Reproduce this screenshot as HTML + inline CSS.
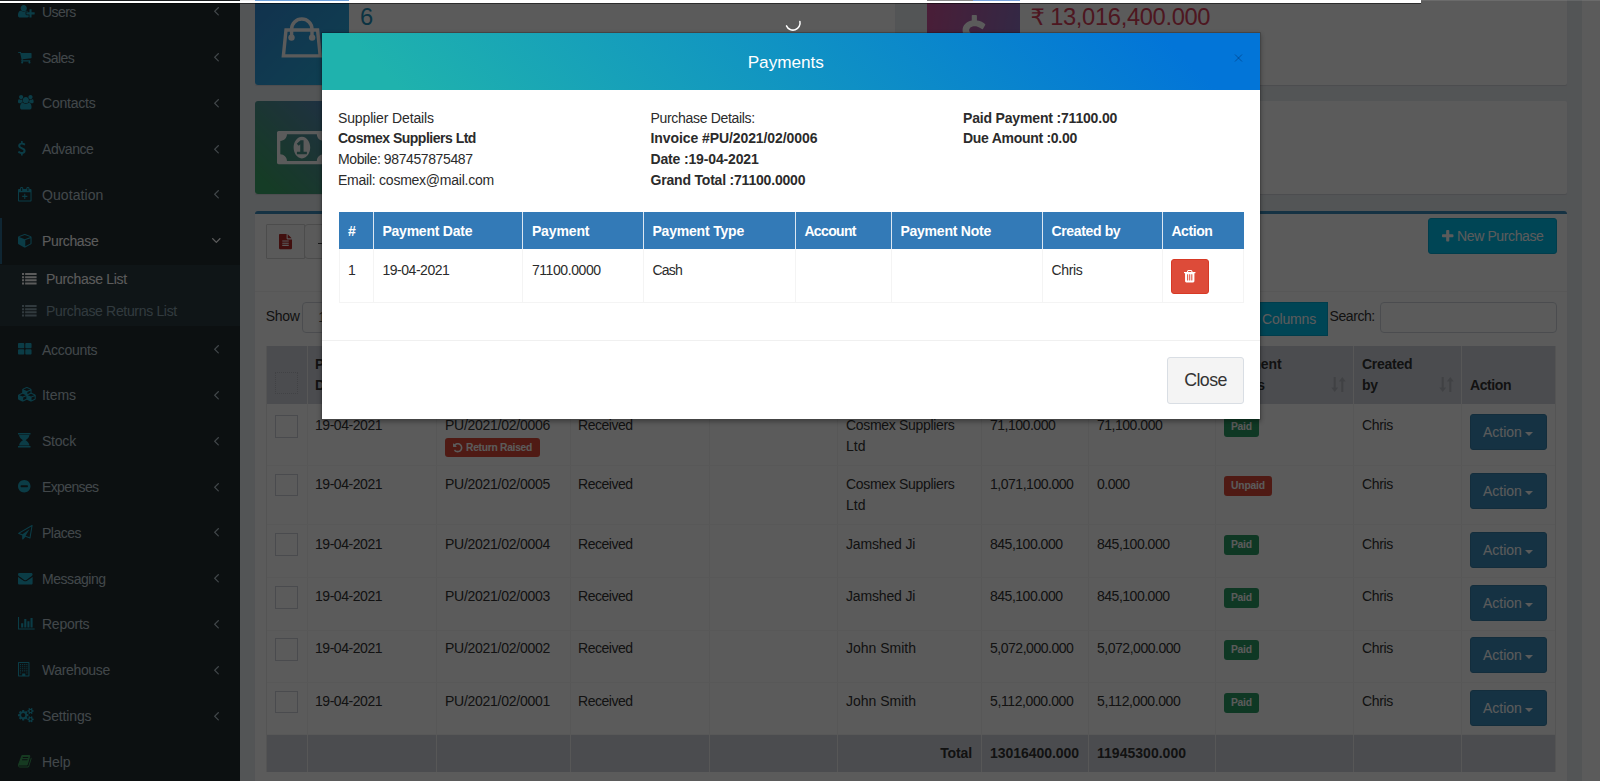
<!DOCTYPE html>
<html lang="en"><head><meta charset="utf-8"><title>Purchase List - Payments</title>
<style>
html,body{margin:0;padding:0;background:#fff}
body{width:1600px;height:781px;overflow:hidden;position:relative;font-family:"Liberation Sans",sans-serif}
#bg,#ov,#top,#modal{position:absolute;left:0;top:0;width:1600px;height:781px;overflow:hidden}
#ov{background:rgba(0,0,0,.645)}
.b{position:absolute}
.i{position:absolute;display:block;overflow:visible}
.t{position:absolute;white-space:pre;line-height:20px;font-weight:400}
</style></head>
<body>
<div id="bg"><div class="b" style="left:0px;top:-20px;width:240px;height:820px;background:#222d32"></div><div class="b" style="left:0px;top:218px;width:2px;height:46px;background:#2c6a8e"></div><div class="b" style="left:0px;top:265px;width:240px;height:61px;background:#2c3b41"></div><svg class="i" style="left:18.00px;top:4.68px;" width="16.69" height="12.51" viewBox="0.0 -1408.0 2048.0 1536.0"><path fill="#1fa9c4" transform="scale(1,-1)" d="M704 640C916 640 1088 812 1088 1024C1088 1236 916 1408 704 1408C492 1408 320 1236 320 1024C320 812 492 640 704 640ZM1664 512V864C1664 881 1649 896 1632 896H1440C1423 896 1408 881 1408 864V512H1056C1039 512 1024 497 1024 480V288C1024 271 1039 256 1056 256H1408V-96C1408 -113 1423 -128 1440 -128H1632C1649 -128 1664 -113 1664 -96V256H2016C2033 256 2048 271 2048 288V480C2048 497 2033 512 2016 512ZM928 288V480C928 550 986 608 1056 608H1279C1222 672 1147 704 1062 704C1046 704 1035 697 1023 687C925 612 830 565 704 565C578 565 483 612 385 687C373 697 362 704 346 704C53 704 0 357 0 131C0 -32 107 -128 267 -128H1141C1201 -128 1263 -114 1312 -78V160H1056C986 160 928 218 928 288Z"/></svg><span class="t" style="left:42.00px;top:1.75px;font-size:14.03px;color:#b8c7ce;letter-spacing:-0.560px;">Users</span><svg class="i" style="left:213.89px;top:7.25px;" width="5.03" height="8.63" viewBox="45.0 -1075.0 582.0 998.0"><path fill="#b8c7ce" transform="scale(1,-1)" d="M627 992C627 1001 623 1009 617 1015L567 1065C561 1071 552 1075 544 1075C536 1075 527 1071 521 1065L55 599C49 593 45 584 45 576C45 568 49 559 55 553L521 87C527 81 536 77 544 77C552 77 561 81 567 87L617 137C623 143 627 152 627 160C627 168 623 177 617 183L224 576L617 969C623 975 627 984 627 992Z"/></svg><svg class="i" style="left:18.00px;top:51.52px;" width="13.56" height="11.47" viewBox="0.0 -1280.0 1664.0 1408.0"><path fill="#1fa9c4" transform="scale(1,-1)" d="M640 0C640 70 582 128 512 128C442 128 384 70 384 0C384 -70 442 -128 512 -128C582 -128 640 -70 640 0ZM1536 0C1536 70 1478 128 1408 128C1338 128 1280 70 1280 0C1280 -70 1338 -128 1408 -128C1478 -128 1536 -70 1536 0ZM1664 1088C1664 1123 1635 1152 1600 1152H399C389 1200 387 1280 320 1280H64C29 1280 0 1251 0 1216C0 1181 29 1152 64 1152H268L445 329C429 298 384 223 384 192C384 157 413 128 448 128H1472C1507 128 1536 157 1536 192C1536 227 1507 256 1472 256H552C562 276 576 297 576 320C576 344 568 367 563 390L1607 512C1639 516 1664 544 1664 576Z"/></svg><span class="t" style="left:42.00px;top:47.55px;font-size:14.03px;color:#b8c7ce;letter-spacing:-0.573px;">Sales</span><svg class="i" style="left:213.89px;top:53.05px;" width="5.03" height="8.63" viewBox="45.0 -1075.0 582.0 998.0"><path fill="#b8c7ce" transform="scale(1,-1)" d="M627 992C627 1001 623 1009 617 1015L567 1065C561 1071 552 1075 544 1075C536 1075 527 1071 521 1065L55 599C49 593 45 584 45 576C45 568 49 559 55 553L521 87C527 81 536 77 544 77C552 77 561 81 567 87L617 137C623 143 627 152 627 160C627 168 623 177 617 183L224 576L617 969C623 975 627 984 627 992Z"/></svg><svg class="i" style="left:18.00px;top:95.24px;" width="15.64" height="14.60" viewBox="-0.0 -1536.0 1920.0 1792.0"><path fill="#1fa9c4" transform="scale(1,-1)" d="M593 640C541 715 512 805 512 896C512 918 514 940 517 962C474 947 430 939 384 939C249 939 145 1024 124 1024C-3 1024 0 752 0 671C0 560 94 512 194 512H328C395 592 489 637 593 640ZM1664 3C1664 229 1611 576 1318 576C1284 576 1160 437 960 437C760 437 636 576 602 576C309 576 256 229 256 3C256 -159 363 -256 523 -256H1397C1557 -256 1664 -159 1664 3ZM640 1280C640 1421 525 1536 384 1536C243 1536 128 1421 128 1280C128 1139 243 1024 384 1024C525 1024 640 1139 640 1280ZM1344 896C1344 1108 1172 1280 960 1280C748 1280 576 1108 576 896C576 684 748 512 960 512C1172 512 1344 684 1344 896ZM1920 671C1920 752 1923 1024 1796 1024C1775 1024 1671 939 1536 939C1490 939 1446 947 1403 962C1406 940 1408 918 1408 896C1408 805 1379 715 1327 640C1431 637 1525 592 1592 512H1726C1826 512 1920 560 1920 671ZM1792 1280C1792 1421 1677 1536 1536 1536C1395 1536 1280 1421 1280 1280C1280 1139 1395 1024 1536 1024C1677 1024 1792 1139 1792 1280Z"/></svg><span class="t" style="left:42.00px;top:93.35px;font-size:14.03px;color:#b8c7ce;letter-spacing:-0.218px;">Contacts</span><svg class="i" style="left:213.89px;top:98.85px;" width="5.03" height="8.63" viewBox="45.0 -1075.0 582.0 998.0"><path fill="#b8c7ce" transform="scale(1,-1)" d="M627 992C627 1001 623 1009 617 1015L567 1065C561 1071 552 1075 544 1075C536 1075 527 1071 521 1065L55 599C49 593 45 584 45 576C45 568 49 559 55 553L521 87C527 81 536 77 544 77C552 77 561 81 567 87L617 137C623 143 627 152 627 160C627 168 623 177 617 183L224 576L617 969C623 975 627 984 627 992Z"/></svg><svg class="i" style="left:18.37px;top:141.04px;" width="7.59" height="14.60" viewBox="45.8 -1536.0 932.2 1792.0"><path fill="#1fa9c4" transform="scale(1,-1)" d="M978 351C978 592 770 673 586 744C444 799 322 846 322 952C322 1043 410 1106 537 1106C687 1106 808 999 809 998C817 992 826 989 836 991C846 992 854 998 859 1007L940 1153C947 1165 945 1180 935 1191C931 1195 823 1305 620 1328V1504C620 1522 606 1536 588 1536H453C436 1536 421 1522 421 1504V1324C212 1284 68 1132 68 948C68 697 292 607 472 536C607 482 725 435 725 339C725 226 619 174 521 174C344 174 204 308 202 309C196 316 187 319 178 318C169 317 160 313 155 306L52 171C43 159 44 142 54 130C59 124 187 -16 421 -49V-224C421 -242 436 -256 453 -256H588C606 -256 620 -242 620 -224V-49C832 -14 978 147 978 351Z"/></svg><span class="t" style="left:42.00px;top:139.15px;font-size:14.03px;color:#b8c7ce;letter-spacing:-0.446px;">Advance</span><svg class="i" style="left:213.89px;top:144.65px;" width="5.03" height="8.63" viewBox="45.0 -1075.0 582.0 998.0"><path fill="#b8c7ce" transform="scale(1,-1)" d="M627 992C627 1001 623 1009 617 1015L567 1065C561 1071 552 1075 544 1075C536 1075 527 1071 521 1065L55 599C49 593 45 584 45 576C45 568 49 559 55 553L521 87C527 81 536 77 544 77C552 77 561 81 567 87L617 137C623 143 627 152 627 160C627 168 623 177 617 183L224 576L617 969C623 975 627 984 627 992Z"/></svg><svg class="i" style="left:18.00px;top:186.84px;" width="13.56" height="14.60" viewBox="0.0 -1536.0 1664.0 1792.0"><path fill="#1fa9c4" transform="scale(1,-1)" d="M1536 1280H1408V1376C1408 1464 1336 1536 1248 1536H1184C1096 1536 1024 1464 1024 1376V1280H640V1376C640 1464 568 1536 480 1536H416C328 1536 256 1464 256 1376V1280H128C58 1280 0 1222 0 1152V-128C0 -198 58 -256 128 -256H1536C1606 -256 1664 -198 1664 -128V1152C1664 1222 1606 1280 1536 1280ZM1152 1376C1152 1394 1166 1408 1184 1408H1248C1266 1408 1280 1394 1280 1376V1088C1280 1070 1266 1056 1248 1056H1184C1166 1056 1152 1070 1152 1088ZM384 1376C384 1394 398 1408 416 1408H480C498 1408 512 1394 512 1376V1088C512 1070 498 1056 480 1056H416C398 1056 384 1070 384 1088ZM1536 -128H128V896H1536ZM896 448V672C896 690 882 704 864 704H800C782 704 768 690 768 672V448H544C526 448 512 434 512 416V352C512 334 526 320 544 320H768V96C768 78 782 64 800 64H864C882 64 896 78 896 96V320H1120C1138 320 1152 334 1152 352V416C1152 434 1138 448 1120 448Z"/></svg><span class="t" style="left:42.00px;top:184.95px;font-size:14.03px;color:#b8c7ce;letter-spacing:0.072px;">Quotation</span><svg class="i" style="left:213.89px;top:190.45px;" width="5.03" height="8.63" viewBox="45.0 -1075.0 582.0 998.0"><path fill="#b8c7ce" transform="scale(1,-1)" d="M627 992C627 1001 623 1009 617 1015L567 1065C561 1071 552 1075 544 1075C536 1075 527 1071 521 1065L55 599C49 593 45 584 45 576C45 568 49 559 55 553L521 87C527 81 536 77 544 77C552 77 561 81 567 87L617 137C623 143 627 152 627 160C627 168 623 177 617 183L224 576L617 969C623 975 627 984 627 992Z"/></svg><svg class="i" style="left:18.00px;top:233.68px;" width="13.56" height="13.56" viewBox="0.0 -1408.0 1664.0 1664.0"><path fill="#1fa9c4" transform="scale(1,-1)" d="M896 -93V659L1536 892V256ZM832 772 134 1026 832 1280 1530 1026ZM1664 1024C1664 1078 1630 1126 1580 1144L876 1400C862 1405 847 1408 832 1408C817 1408 802 1405 788 1400L84 1144C34 1126 0 1078 0 1024V256C0 209 26 166 67 144L771 -240C790 -251 811 -256 832 -256C853 -256 874 -251 893 -240L1597 144C1638 166 1664 209 1664 256Z"/></svg><span class="t" style="left:42.00px;top:230.75px;font-size:14.03px;color:#fff;letter-spacing:-0.355px;">Purchase</span><svg class="i" style="left:211.67px;top:237.91px;" width="8.63" height="5.03" viewBox="77.0 -883.0 998.0 582.0"><path fill="#fff" transform="scale(1,-1)" d="M1075 800C1075 808 1071 817 1065 823L1015 873C1009 879 1000 883 992 883C984 883 975 879 969 873L576 480L183 873C177 879 168 883 160 883C151 883 143 879 137 873L87 823C81 817 77 808 77 800C77 792 81 783 87 777L553 311C559 305 568 301 576 301C584 301 593 305 599 311L1065 777C1071 783 1075 792 1075 800Z"/></svg><svg class="i" style="left:18.00px;top:342.58px;" width="13.56" height="11.47" viewBox="0.0 -1408.0 1664.0 1408.0"><path fill="#1fa9c4" transform="scale(1,-1)" d="M768 512C768 582 710 640 640 640H128C58 640 0 582 0 512V128C0 58 58 0 128 0H640C710 0 768 58 768 128ZM768 1280C768 1350 710 1408 640 1408H128C58 1408 0 1350 0 1280V896C0 826 58 768 128 768H640C710 768 768 826 768 896ZM1664 512C1664 582 1606 640 1536 640H1024C954 640 896 582 896 512V128C896 58 954 0 1024 0H1536C1606 0 1664 58 1664 128ZM1664 1280C1664 1350 1606 1408 1536 1408H1024C954 1408 896 1350 896 1280V896C896 826 954 768 1024 768H1536C1606 768 1664 826 1664 896Z"/></svg><span class="t" style="left:42.00px;top:339.65px;font-size:14.03px;color:#b8c7ce;letter-spacing:-0.293px;">Accounts</span><svg class="i" style="left:213.89px;top:345.15px;" width="5.03" height="8.63" viewBox="45.0 -1075.0 582.0 998.0"><path fill="#b8c7ce" transform="scale(1,-1)" d="M627 992C627 1001 623 1009 617 1015L567 1065C561 1071 552 1075 544 1075C536 1075 527 1071 521 1065L55 599C49 593 45 584 45 576C45 568 49 559 55 553L521 87C527 81 536 77 544 77C552 77 561 81 567 87L617 137C623 143 627 152 627 160C627 168 623 177 617 183L224 576L617 969C623 975 627 984 627 992Z"/></svg><svg class="i" style="left:18.00px;top:387.34px;" width="17.73" height="14.60" viewBox="0.0 -1536.0 2176.0 1792.0"><path fill="#1fa9c4" transform="scale(1,-1)" d="M640 -96V246L1024 410V96ZM576 358 172 531 576 704 980 531ZM1664 -96V246L2048 410V96ZM1600 358 1196 531 1600 704 2004 531ZM1152 651V918L1536 1082V816ZM1088 1030 647 1219 1088 1408 1529 1219ZM2176 512C2176 563 2146 609 2098 630L1664 816V1216C1664 1267 1633 1313 1586 1334L1138 1526C1122 1533 1105 1536 1088 1536C1071 1536 1054 1533 1038 1526L590 1334C543 1313 512 1267 512 1216V816L78 630C31 609 0 563 0 512V96C0 48 27 3 71 -18L519 -242C537 -252 556 -256 576 -256C596 -256 615 -252 633 -242L1081 -18C1084 -17 1086 -16 1088 -14C1090 -16 1092 -17 1095 -18L1543 -242C1561 -252 1580 -256 1600 -256C1620 -256 1639 -252 1657 -242L2105 -18C2149 3 2176 48 2176 96Z"/></svg><span class="t" style="left:42.00px;top:385.45px;font-size:14.03px;color:#b8c7ce;letter-spacing:-0.055px;">Items</span><svg class="i" style="left:213.89px;top:390.95px;" width="5.03" height="8.63" viewBox="45.0 -1075.0 582.0 998.0"><path fill="#b8c7ce" transform="scale(1,-1)" d="M627 992C627 1001 623 1009 617 1015L567 1065C561 1071 552 1075 544 1075C536 1075 527 1071 521 1065L55 599C49 593 45 584 45 576C45 568 49 559 55 553L521 87C527 81 536 77 544 77C552 77 561 81 567 87L617 137C623 143 627 152 627 160C627 168 623 177 617 183L224 576L617 969C623 975 627 984 627 992Z"/></svg><svg class="i" style="left:18.00px;top:433.14px;" width="12.51" height="14.60" viewBox="0.0 -1536.0 1536.0 1792.0"><path fill="#1fa9c4" transform="scale(1,-1)" d="M1504 -64H32C14 -64 0 -78 0 -96V-224C0 -242 14 -256 32 -256H1504C1522 -256 1536 -242 1536 -224V-96C1536 -78 1522 -64 1504 -64ZM130 0H1406C1387 337 1112 518 928 640C1112 762 1387 943 1406 1280H130C149 943 424 762 608 640C424 518 149 337 130 0ZM1504 1536H32C14 1536 0 1522 0 1504V1376C0 1358 14 1344 32 1344H1504C1522 1344 1536 1358 1536 1376V1504C1536 1522 1522 1536 1504 1536Z"/></svg><span class="t" style="left:42.00px;top:431.25px;font-size:14.03px;color:#b8c7ce;letter-spacing:-0.224px;">Stock</span><svg class="i" style="left:213.89px;top:436.75px;" width="5.03" height="8.63" viewBox="45.0 -1075.0 582.0 998.0"><path fill="#b8c7ce" transform="scale(1,-1)" d="M627 992C627 1001 623 1009 617 1015L567 1065C561 1071 552 1075 544 1075C536 1075 527 1071 521 1065L55 599C49 593 45 584 45 576C45 568 49 559 55 553L521 87C527 81 536 77 544 77C552 77 561 81 567 87L617 137C623 143 627 152 627 160C627 168 623 177 617 183L224 576L617 969C623 975 627 984 627 992Z"/></svg><svg class="i" style="left:18.00px;top:479.98px;" width="12.51" height="12.51" viewBox="0.0 -1408.0 1536.0 1536.0"><path fill="#1fa9c4" transform="scale(1,-1)" d="M1216 576C1216 541 1187 512 1152 512H384C349 512 320 541 320 576V704C320 739 349 768 384 768H1152C1187 768 1216 739 1216 704V576ZM1536 640C1536 1064 1192 1408 768 1408C344 1408 0 1064 0 640C0 216 344 -128 768 -128C1192 -128 1536 216 1536 640Z"/></svg><span class="t" style="left:42.00px;top:477.05px;font-size:14.03px;color:#b8c7ce;letter-spacing:-0.633px;">Expenses</span><svg class="i" style="left:213.89px;top:482.55px;" width="5.03" height="8.63" viewBox="45.0 -1075.0 582.0 998.0"><path fill="#b8c7ce" transform="scale(1,-1)" d="M627 992C627 1001 623 1009 617 1015L567 1065C561 1071 552 1075 544 1075C536 1075 527 1071 521 1065L55 599C49 593 45 584 45 576C45 568 49 559 55 553L521 87C527 81 536 77 544 77C552 77 561 81 567 87L617 137C623 143 627 152 627 160C627 168 623 177 617 183L224 576L617 969C623 975 627 984 627 992Z"/></svg><svg class="i" style="left:18.00px;top:524.73px;" width="14.60" height="14.60" viewBox="-0.2 -1536.2 1792.1 1792.2"><path fill="#1fa9c4" transform="scale(1,-1)" d="M1764 1525C1744 1539 1717 1540 1696 1527L32 567C11 555 -2 532 0 508C2 483 17 462 40 453L512 260V-192C512 -218 528 -242 553 -252C560 -255 568 -256 576 -256C594 -256 611 -249 623 -235L921 92L1448 -123C1456 -126 1464 -128 1472 -128C1483 -128 1494 -125 1503 -120C1520 -110 1532 -94 1535 -75L1791 1461C1795 1486 1785 1510 1764 1525ZM1422 26 930 227 1408 1024 545 385 209 522 1643 1349Z"/></svg><span class="t" style="left:42.00px;top:522.85px;font-size:14.03px;color:#b8c7ce;letter-spacing:-0.513px;">Places</span><svg class="i" style="left:213.89px;top:528.35px;" width="5.03" height="8.63" viewBox="45.0 -1075.0 582.0 998.0"><path fill="#b8c7ce" transform="scale(1,-1)" d="M627 992C627 1001 623 1009 617 1015L567 1065C561 1071 552 1075 544 1075C536 1075 527 1071 521 1065L55 599C49 593 45 584 45 576C45 568 49 559 55 553L521 87C527 81 536 77 544 77C552 77 561 81 567 87L617 137C623 143 627 152 627 160C627 168 623 177 617 183L224 576L617 969C623 975 627 984 627 992Z"/></svg><svg class="i" style="left:18.00px;top:572.62px;" width="14.60" height="11.47" viewBox="0.0 -1280.0 1792.0 1408.0"><path fill="#1fa9c4" transform="scale(1,-1)" d="M1792 826C1762 793 1728 764 1692 739C1525 626 1357 512 1194 394C1110 332 1006 256 897 256H896H895C786 256 682 332 598 394C435 513 267 626 101 739C64 764 30 793 0 826V32C0 -56 72 -128 160 -128H1632C1720 -128 1792 -56 1792 32ZM1792 1120C1792 1208 1719 1280 1632 1280H160C53 1280 0 1196 0 1098C0 1007 101 894 172 846C327 738 484 630 639 521C704 476 814 384 895 384H896H897C978 384 1088 476 1153 521C1308 630 1465 738 1621 846C1709 907 1792 1008 1792 1120Z"/></svg><span class="t" style="left:42.00px;top:568.65px;font-size:14.03px;color:#b8c7ce;letter-spacing:-0.457px;">Messaging</span><svg class="i" style="left:213.89px;top:574.15px;" width="5.03" height="8.63" viewBox="45.0 -1075.0 582.0 998.0"><path fill="#b8c7ce" transform="scale(1,-1)" d="M627 992C627 1001 623 1009 617 1015L567 1065C561 1071 552 1075 544 1075C536 1075 527 1071 521 1065L55 599C49 593 45 584 45 576C45 568 49 559 55 553L521 87C527 81 536 77 544 77C552 77 561 81 567 87L617 137C623 143 627 152 627 160C627 168 623 177 617 183L224 576L617 969C623 975 627 984 627 992Z"/></svg><svg class="i" style="left:18.00px;top:617.38px;" width="16.69" height="12.51" viewBox="0.0 -1408.0 2048.0 1536.0"><path fill="#1fa9c4" transform="scale(1,-1)" d="M640 640H384V128H640ZM1024 1152H768V128H1024ZM2048 0H128V1408H0V-128H2048ZM1408 896H1152V128H1408ZM1792 1280H1536V128H1792Z"/></svg><span class="t" style="left:42.00px;top:614.45px;font-size:14.03px;color:#b8c7ce;letter-spacing:-0.248px;">Reports</span><svg class="i" style="left:213.89px;top:619.95px;" width="5.03" height="8.63" viewBox="45.0 -1075.0 582.0 998.0"><path fill="#b8c7ce" transform="scale(1,-1)" d="M627 992C627 1001 623 1009 617 1015L567 1065C561 1071 552 1075 544 1075C536 1075 527 1071 521 1065L55 599C49 593 45 584 45 576C45 568 49 559 55 553L521 87C527 81 536 77 544 77C552 77 561 81 567 87L617 137C623 143 627 152 627 160C627 168 623 177 617 183L224 576L617 969C623 975 627 984 627 992Z"/></svg><svg class="i" style="left:18.00px;top:662.14px;" width="11.47" height="14.60" viewBox="0.0 -1536.0 1408.0 1792.0"><path fill="#1fa9c4" transform="scale(1,-1)" d="M384 224C384 241 369 256 352 256H288C271 256 256 241 256 224V160C256 143 271 128 288 128H352C369 128 384 143 384 160ZM384 480C384 497 369 512 352 512H288C271 512 256 497 256 480V416C256 399 271 384 288 384H352C369 384 384 399 384 416ZM640 480C640 497 625 512 608 512H544C527 512 512 497 512 480V416C512 399 527 384 544 384H608C625 384 640 399 640 416ZM384 736C384 753 369 768 352 768H288C271 768 256 753 256 736V672C256 655 271 640 288 640H352C369 640 384 655 384 672ZM1152 224C1152 241 1137 256 1120 256H1056C1039 256 1024 241 1024 224V160C1024 143 1039 128 1056 128H1120C1137 128 1152 143 1152 160ZM896 480C896 497 881 512 864 512H800C783 512 768 497 768 480V416C768 399 783 384 800 384H864C881 384 896 399 896 416ZM640 736C640 753 625 768 608 768H544C527 768 512 753 512 736V672C512 655 527 640 544 640H608C625 640 640 655 640 672ZM384 992C384 1009 369 1024 352 1024H288C271 1024 256 1009 256 992V928C256 911 271 896 288 896H352C369 896 384 911 384 928ZM1152 480C1152 497 1137 512 1120 512H1056C1039 512 1024 497 1024 480V416C1024 399 1039 384 1056 384H1120C1137 384 1152 399 1152 416ZM896 736C896 753 881 768 864 768H800C783 768 768 753 768 736V672C768 655 783 640 800 640H864C881 640 896 655 896 672ZM640 992C640 1009 625 1024 608 1024H544C527 1024 512 1009 512 992V928C512 911 527 896 544 896H608C625 896 640 911 640 928ZM384 1248C384 1265 369 1280 352 1280H288C271 1280 256 1265 256 1248V1184C256 1167 271 1152 288 1152H352C369 1152 384 1167 384 1184ZM1152 736C1152 753 1137 768 1120 768H1056C1039 768 1024 753 1024 736V672C1024 655 1039 640 1056 640H1120C1137 640 1152 655 1152 672ZM896 992C896 1009 881 1024 864 1024H800C783 1024 768 1009 768 992V928C768 911 783 896 800 896H864C881 896 896 911 896 928ZM640 1248C640 1265 625 1280 608 1280H544C527 1280 512 1265 512 1248V1184C512 1167 527 1152 544 1152H608C625 1152 640 1167 640 1184ZM1152 992C1152 1009 1137 1024 1120 1024H1056C1039 1024 1024 1009 1024 992V928C1024 911 1039 896 1056 896H1120C1137 896 1152 911 1152 928ZM896 1248C896 1265 881 1280 864 1280H800C783 1280 768 1265 768 1248V1184C768 1167 783 1152 800 1152H864C881 1152 896 1167 896 1184ZM1152 1248C1152 1265 1137 1280 1120 1280H1056C1039 1280 1024 1265 1024 1248V1184C1024 1167 1039 1152 1056 1152H1120C1137 1152 1152 1167 1152 1184ZM896 -128V96C896 113 881 128 864 128H544C527 128 512 113 512 96V-128H128V1408H1280V-128ZM1408 1472C1408 1507 1379 1536 1344 1536H64C29 1536 0 1507 0 1472V-192C0 -227 29 -256 64 -256H1344C1379 -256 1408 -227 1408 -192Z"/></svg><span class="t" style="left:42.00px;top:660.25px;font-size:14.03px;color:#b8c7ce;letter-spacing:-0.370px;">Warehouse</span><svg class="i" style="left:213.89px;top:665.75px;" width="5.03" height="8.63" viewBox="45.0 -1075.0 582.0 998.0"><path fill="#b8c7ce" transform="scale(1,-1)" d="M627 992C627 1001 623 1009 617 1015L567 1065C561 1071 552 1075 544 1075C536 1075 527 1071 521 1065L55 599C49 593 45 584 45 576C45 568 49 559 55 553L521 87C527 81 536 77 544 77C552 77 561 81 567 87L617 137C623 143 627 152 627 160C627 168 623 177 617 183L224 576L617 969C623 975 627 984 627 992Z"/></svg><svg class="i" style="left:18.00px;top:708.07px;" width="15.64" height="14.35" viewBox="0.0 -1520.0 1920.0 1761.0"><path fill="#1fa9c4" transform="scale(1,-1)" d="M896 640C896 499 781 384 640 384C499 384 384 499 384 640C384 781 499 896 640 896C781 896 896 781 896 640ZM1664 128C1664 58 1607 0 1536 0C1466 0 1408 57 1408 128C1408 198 1466 256 1536 256C1606 256 1664 198 1664 128ZM1664 1152C1664 1082 1607 1024 1536 1024C1466 1024 1408 1081 1408 1152C1408 1222 1466 1280 1536 1280C1606 1280 1664 1222 1664 1152ZM1280 731C1280 745 1270 758 1256 761L1104 784C1095 812 1083 839 1070 866C1098 905 1128 941 1157 980C1161 986 1164 992 1164 999C1164 1027 1046 1135 1020 1159C1014 1164 1007 1167 999 1167C992 1167 985 1165 979 1160L861 1071C837 1083 812 1094 786 1102L763 1255C761 1269 747 1280 733 1280H547C533 1280 521 1270 517 1256C504 1207 499 1152 494 1102C467 1093 442 1083 417 1070L302 1160C296 1164 289 1167 281 1167C252 1167 140 1046 120 1019C115 1013 113 1006 113 999C113 992 116 985 120 979C152 941 182 904 210 864C197 839 186 814 178 788L23 764C10 762 0 747 0 734V549C0 535 10 522 24 520L176 496C185 468 197 441 211 414C182 375 152 338 123 300C119 294 116 288 116 281C116 252 234 145 260 121C266 116 273 113 281 113C288 113 296 115 301 120L419 209C443 197 468 186 494 178L517 25C519 11 533 0 547 0H733C747 0 759 10 763 24C776 73 781 128 786 179C813 187 838 197 863 210L978 120C984 116 991 113 999 113C1028 113 1140 235 1160 262C1165 267 1167 274 1167 281C1167 289 1164 295 1160 301C1128 339 1098 376 1070 416C1083 441 1094 466 1102 492L1257 516C1270 518 1280 533 1280 546ZM1920 198C1920 213 1791 227 1771 229C1763 247 1753 265 1741 281C1750 301 1792 401 1792 419C1792 421 1791 424 1788 426C1776 433 1669 496 1664 496L1658 494C1624 460 1594 421 1566 382C1556 383 1546 384 1536 384C1526 384 1516 383 1506 382C1496 397 1421 496 1408 496C1403 496 1296 432 1284 426C1281 424 1280 421 1280 419C1280 402 1322 301 1331 281C1319 265 1309 247 1301 229C1281 227 1152 213 1152 198V58C1152 43 1281 29 1301 27C1309 8 1319 -9 1331 -25C1322 -45 1280 -146 1280 -163C1280 -165 1281 -168 1284 -170C1296 -177 1403 -241 1408 -241C1421 -241 1496 -141 1506 -126C1516 -127 1526 -128 1536 -128C1546 -128 1556 -127 1566 -126C1576 -141 1651 -241 1664 -241C1669 -241 1776 -177 1788 -170C1791 -168 1792 -166 1792 -163C1792 -145 1750 -45 1741 -25C1753 -9 1763 8 1771 27C1791 29 1920 43 1920 58ZM1920 1222C1920 1237 1791 1251 1771 1253C1763 1271 1753 1289 1741 1305C1750 1325 1792 1425 1792 1443C1792 1445 1791 1448 1788 1450C1776 1457 1669 1520 1664 1520L1658 1518C1624 1484 1594 1445 1566 1406C1556 1407 1546 1408 1536 1408C1526 1408 1516 1407 1506 1406C1496 1421 1421 1520 1408 1520C1403 1520 1296 1456 1284 1450C1281 1448 1280 1445 1280 1443C1280 1426 1322 1325 1331 1305C1319 1289 1309 1271 1301 1253C1281 1251 1152 1237 1152 1222V1082C1152 1067 1281 1053 1301 1051C1309 1032 1319 1015 1331 999C1322 979 1280 878 1280 861C1280 859 1281 856 1284 854C1296 847 1403 783 1408 783C1421 783 1496 883 1506 898C1516 897 1526 896 1536 896C1546 896 1556 897 1566 898C1576 883 1651 783 1664 783C1669 783 1776 847 1788 854C1791 856 1792 858 1792 861C1792 879 1750 979 1741 999C1753 1015 1763 1032 1771 1051C1791 1053 1920 1067 1920 1082Z"/></svg><span class="t" style="left:42.00px;top:706.05px;font-size:14.03px;color:#b8c7ce;letter-spacing:-0.149px;">Settings</span><svg class="i" style="left:213.89px;top:711.55px;" width="5.03" height="8.63" viewBox="45.0 -1075.0 582.0 998.0"><path fill="#b8c7ce" transform="scale(1,-1)" d="M627 992C627 1001 623 1009 617 1015L567 1065C561 1071 552 1075 544 1075C536 1075 527 1071 521 1065L55 599C49 593 45 584 45 576C45 568 49 559 55 553L521 87C527 81 536 77 544 77C552 77 561 81 567 87L617 137C623 143 627 152 627 160C627 168 623 177 617 183L224 576L617 969C623 975 627 984 627 992Z"/></svg><svg class="i" style="left:18.00px;top:754.78px;" width="13.56" height="12.51" viewBox="-0.3 -1408.0 1664.4 1536.0"><path fill="#3fa35c" transform="scale(1,-1)" d="M1639 1058C1624 1078 1603 1092 1580 1101C1581 1083 1581 1063 1575 1044L1275 57C1264 21 1221 0 1184 0H261C206 0 137 12 117 70C109 92 110 101 118 113C127 125 143 128 156 128H1025C1152 128 1178 162 1225 316L1499 1222C1513 1269 1507 1316 1481 1352C1456 1387 1414 1408 1367 1408H606C589 1408 572 1403 555 1399L556 1402C429 1438 421 1301 379 1239C363 1216 339 1196 335 1177C332 1159 342 1142 340 1125C334 1072 294 977 270 944C255 924 233 914 226 891C220 875 230 852 228 831C223 784 188 695 161 649C151 631 132 617 127 598C122 581 132 559 127 540C116 488 82 407 52 357C36 330 15 313 11 289C9 277 18 264 17 248C16 224 12 204 10 184C-4 146 -4 102 12 57C49 -47 158 -128 260 -128H1183C1269 -128 1357 -62 1382 23L1657 929C1671 975 1664 1022 1639 1058ZM575 1056 596 1120C602 1138 621 1152 638 1152H1246C1264 1152 1274 1138 1268 1120L1247 1056C1241 1038 1222 1024 1205 1024H597C579 1024 569 1038 575 1056ZM492 800 513 864C519 882 538 896 555 896H1163C1181 896 1191 882 1185 864L1164 800C1158 782 1139 768 1122 768H514C496 768 486 782 492 800Z"/></svg><span class="t" style="left:42.00px;top:751.85px;font-size:14.03px;color:#b8c7ce;letter-spacing:-0.069px;">Help</span><svg class="i" style="left:22.00px;top:272.53px;" width="14.60" height="11.47" viewBox="0.0 -1408.0 1792.0 1408.0"><path fill="#fff" transform="scale(1,-1)" d="M256 224C256 241 241 256 224 256H32C15 256 0 241 0 224V32C0 15 15 0 32 0H224C241 0 256 15 256 32ZM256 608C256 625 241 640 224 640H32C15 640 0 625 0 608V416C0 399 15 384 32 384H224C241 384 256 399 256 416ZM256 992C256 1009 241 1024 224 1024H32C15 1024 0 1009 0 992V800C0 783 15 768 32 768H224C241 768 256 783 256 800ZM1792 224C1792 241 1777 256 1760 256H416C399 256 384 241 384 224V32C384 15 399 0 416 0H1760C1777 0 1792 15 1792 32ZM256 1376C256 1393 241 1408 224 1408H32C15 1408 0 1393 0 1376V1184C0 1167 15 1152 32 1152H224C241 1152 256 1167 256 1184ZM1792 608C1792 625 1777 640 1760 640H416C399 640 384 625 384 608V416C384 399 399 384 416 384H1760C1777 384 1792 399 1792 416ZM1792 992C1792 1009 1777 1024 1760 1024H416C399 1024 384 1009 384 992V800C384 783 399 768 416 768H1760C1777 768 1792 783 1792 800ZM1792 1376C1792 1393 1777 1408 1760 1408H416C399 1408 384 1393 384 1376V1184C384 1167 399 1152 416 1152H1760C1777 1152 1792 1167 1792 1184Z"/></svg><span class="t" style="left:46.00px;top:269.00px;font-size:14.03px;color:#fff;letter-spacing:-0.324px;">Purchase List</span><svg class="i" style="left:22.00px;top:304.53px;" width="14.60" height="11.47" viewBox="0.0 -1408.0 1792.0 1408.0"><path fill="#8aa4af" transform="scale(1,-1)" d="M256 224C256 241 241 256 224 256H32C15 256 0 241 0 224V32C0 15 15 0 32 0H224C241 0 256 15 256 32ZM256 608C256 625 241 640 224 640H32C15 640 0 625 0 608V416C0 399 15 384 32 384H224C241 384 256 399 256 416ZM256 992C256 1009 241 1024 224 1024H32C15 1024 0 1009 0 992V800C0 783 15 768 32 768H224C241 768 256 783 256 800ZM1792 224C1792 241 1777 256 1760 256H416C399 256 384 241 384 224V32C384 15 399 0 416 0H1760C1777 0 1792 15 1792 32ZM256 1376C256 1393 241 1408 224 1408H32C15 1408 0 1393 0 1376V1184C0 1167 15 1152 32 1152H224C241 1152 256 1167 256 1184ZM1792 608C1792 625 1777 640 1760 640H416C399 640 384 625 384 608V416C384 399 399 384 416 384H1760C1777 384 1792 399 1792 416ZM1792 992C1792 1009 1777 1024 1760 1024H416C399 1024 384 1009 384 992V800C384 783 399 768 416 768H1760C1777 768 1792 783 1792 800ZM1792 1376C1792 1393 1777 1408 1760 1408H416C399 1408 384 1393 384 1376V1184C384 1167 399 1152 416 1152H1760C1777 1152 1792 1167 1792 1184Z"/></svg><span class="t" style="left:46.00px;top:301.00px;font-size:14.03px;color:#8aa4af;letter-spacing:-0.334px;">Purchase Returns List</span><div class="b" style="left:240px;top:-20px;width:1342.3px;height:820px;background:#e9edf2"></div><div class="b" style="left:255px;top:-8px;width:640px;height:93px;background:#fff;border-radius:2px;box-shadow:0 1px 1px rgba(0,0,0,.1)"></div><div class="b" style="left:255px;top:-8px;width:94px;height:93px;background:linear-gradient(135deg,#328bd9,#2ab4e4);border-radius:3px 0 0 3px"></div><div class="b" style="left:927px;top:-8px;width:639.7px;height:93px;background:#fff;border-radius:2px;box-shadow:0 1px 1px rgba(0,0,0,.1)"></div><div class="b" style="left:927px;top:-8px;width:93px;height:93px;background:linear-gradient(100deg,#d0539a,#8a74c4);border-radius:3px 0 0 3px"></div><div class="b" style="left:255px;top:101px;width:640px;height:93px;background:#fff;border-radius:2px;box-shadow:0 1px 1px rgba(0,0,0,.1)"></div><div class="b" style="left:255px;top:101px;width:94px;height:93px;background:linear-gradient(45deg,#3da76a 12%,#4f9395 55%,#5a86c6);border-radius:3px 0 0 3px"></div><div class="b" style="left:927px;top:101px;width:639.7px;height:93px;background:#fff;border-radius:2px;box-shadow:0 1px 1px rgba(0,0,0,.1)"></div><div class="b" style="left:927px;top:101px;width:93px;height:93px;background:linear-gradient(135deg,#d08a2e,#c0a030);border-radius:3px 0 0 3px"></div><svg class="i" style="left:278px;top:12px" width="48" height="50" viewBox="278 12 48 50"><g fill="none" stroke="#fff" stroke-width="3.4"><path d="M286 30H317.6L320.2 55.9H283.4Z"/><path d="M291.6 37V29.2a10.2 10.2 0 0 1 20.4 0V37"/></g><circle cx="291.5" cy="37.6" r="3.2" fill="#fff"/><circle cx="312.1" cy="37.6" r="3.2" fill="#fff"/></svg><svg class="i" style="left:961.59px;top:15.14px;" width="24.19" height="46.50" viewBox="45.8 -1536.0 932.2 1792.0"><path fill="#fff" transform="scale(1,-1)" d="M978 351C978 592 770 673 586 744C444 799 322 846 322 952C322 1043 410 1106 537 1106C687 1106 808 999 809 998C817 992 826 989 836 991C846 992 854 998 859 1007L940 1153C947 1165 945 1180 935 1191C931 1195 823 1305 620 1328V1504C620 1522 606 1536 588 1536H453C436 1536 421 1522 421 1504V1324C212 1284 68 1132 68 948C68 697 292 607 472 536C607 482 725 435 725 339C725 226 619 174 521 174C344 174 204 308 202 309C196 316 187 319 178 318C169 317 160 313 155 306L52 171C43 159 44 142 54 130C59 124 187 -16 421 -49V-224C421 -242 436 -256 453 -256H588C606 -256 620 -242 620 -224V-49C832 -14 978 147 978 351Z"/></svg><svg class="i" style="left:277.00px;top:130.99px;" width="49.82" height="33.21" viewBox="0.0 -1280.0 1920.0 1280.0"><path fill="#fff" transform="scale(1,-1)" d="M768 384V480H896V768H894C878 743 863 732 839 711L762 791L910 928H1024V480H1152V384ZM1280 640C1280 822 1170 1056 960 1056C750 1056 640 822 640 640C640 458 750 224 960 224C1170 224 1280 458 1280 640ZM1792 384C1651 384 1536 269 1536 128H384C384 269 269 384 128 384V896C269 896 384 1011 384 1152H1536C1536 1011 1651 896 1792 896V384ZM1920 1216C1920 1251 1891 1280 1856 1280H64C29 1280 0 1251 0 1216V64C0 29 29 0 64 0H1856C1891 0 1920 29 1920 64Z"/></svg><span class="t" style="left:360.00px;top:6.80px;font-size:23.7px;color:#1f8fb8;letter-spacing:-1.200px;">6</span><span class="t" style="left:1030.60px;top:7.30px;font-size:22.5px;color:#d9405a;letter-spacing:-1.200px;font-family:'DejaVu Sans',sans-serif;">₹</span><span class="t" style="left:1050.20px;top:6.80px;font-size:23.7px;color:#d9405a;letter-spacing:-0.333px;">13,016,400.000</span><div class="b" style="left:255px;top:211px;width:1311.7px;height:589px;background:#fff;border-top:3px solid #3c8dbc;border-radius:3px;box-sizing:border-box;box-shadow:0 1px 1px rgba(0,0,0,.1)"></div><div class="b" style="left:255px;top:290.5px;width:1311.7px;height:1.0px;background:#f4f4f4"></div><div class="b" style="left:266px;top:224px;width:39px;height:35px;background:#fcfcfc;border:1px solid #d4d4d4;box-sizing:border-box;border-radius:1px 0 0 1px"></div><div class="b" style="left:304px;top:224px;width:39px;height:35px;background:#fcfcfc;border:1px solid #d4d4d4;box-sizing:border-box;border-radius:4px"></div><svg class="i" style="left:279.00px;top:233.97px;" width="13.03" height="15.20" viewBox="0.0 -1536.0 1536.0 1792.0"><path fill="#b52b27" transform="scale(1,-1)" d="M1468 1060 1060 1468C1050 1478 1038 1487 1024 1496V1024H1496C1487 1038 1478 1050 1468 1060ZM992 896C939 896 896 939 896 992V1536H96C43 1536 0 1493 0 1440V-160C0 -213 43 -256 96 -256H1440C1493 -256 1536 -213 1536 -160V896ZM1152 160C1152 142 1138 128 1120 128H416C398 128 384 142 384 160V224C384 242 398 256 416 256H1120C1138 256 1152 242 1152 224ZM1152 416C1152 398 1138 384 1120 384H416C398 384 384 398 384 416V480C384 498 398 512 416 512H1120C1138 512 1152 498 1152 480ZM1152 672C1152 654 1138 640 1120 640H416C398 640 384 654 384 672V736C384 754 398 768 416 768H1120C1138 768 1152 754 1152 736Z"/></svg><div class="b" style="left:317.5px;top:242.8px;width:5.5px;height:1.3999999999999773px;background:#444"></div><div class="b" style="left:1428.2px;top:218px;width:128.5999999999999px;height:36px;background:#00c0ef;border:1px solid #00acd6;box-sizing:border-box;border-radius:3px"></div><svg class="i" style="left:1441.50px;top:229.83px;" width="11.47" height="11.47" viewBox="0.0 -1408.0 1408.0 1408.0"><path fill="#fff" transform="scale(1,-1)" d="M1408 800C1408 853 1365 896 1312 896H896V1312C896 1365 853 1408 800 1408H608C555 1408 512 1365 512 1312V896H96C43 896 0 853 0 800V608C0 555 43 512 96 512H512V96C512 43 555 0 608 0H800C853 0 896 43 896 96V512H1312C1365 512 1408 555 1408 608Z"/></svg><span class="t" style="left:1457.00px;top:226.00px;font-size:14.03px;color:#fff;letter-spacing:-0.387px;">New Purchase</span><span class="t" style="left:265.70px;top:306.30px;font-size:14.03px;color:#333;letter-spacing:-0.253px;">Show</span><div class="b" style="left:302px;top:302px;width:78px;height:31px;background:#fff;border:1px solid #d2d6de;box-sizing:border-box;border-radius:4px"></div><span class="t" style="left:318.30px;top:307.00px;font-size:14.03px;color:#555;letter-spacing:-0.545px;">10</span><div class="b" style="left:1200px;top:302px;width:127.5px;height:34px;background:#00c0ef;border:1px solid #00acd6;box-sizing:border-box"></div><span class="t" style="left:1262.00px;top:309.00px;font-size:14.03px;color:#fff;letter-spacing:-0.180px;">Columns</span><span class="t" style="left:1329.50px;top:306.30px;font-size:14.03px;color:#333;letter-spacing:-0.432px;">Search:</span><div class="b" style="left:1380px;top:302px;width:176.5px;height:31px;background:#fff;border:1px solid #d2d6de;box-sizing:border-box;border-radius:4px"></div><div class="b" style="left:266px;top:346px;width:1290.3px;height:58px;background:#d2d6de"></div><div class="b" style="left:266px;top:733.6px;width:1290.3px;height:38.89999999999998px;background:#d2d6de"></div><div class="b" style="left:306.5px;top:346px;width:1.0px;height:426px;background:#f3f3f3"></div><div class="b" style="left:436.0px;top:346px;width:1.0px;height:426px;background:#f3f3f3"></div><div class="b" style="left:569.5px;top:346px;width:1.0px;height:426px;background:#f3f3f3"></div><div class="b" style="left:709.0px;top:346px;width:1.0px;height:426px;background:#f3f3f3"></div><div class="b" style="left:836.5px;top:346px;width:1.0px;height:426px;background:#f3f3f3"></div><div class="b" style="left:981.0px;top:346px;width:1.0px;height:426px;background:#f3f3f3"></div><div class="b" style="left:1087.5px;top:346px;width:1.0px;height:426px;background:#f3f3f3"></div><div class="b" style="left:1215.0px;top:346px;width:1.0px;height:426px;background:#f3f3f3"></div><div class="b" style="left:1353.0px;top:346px;width:1.0px;height:426px;background:#f3f3f3"></div><div class="b" style="left:1460.5px;top:346px;width:1.0px;height:426px;background:#f3f3f3"></div><div class="b" style="left:266px;top:464.5px;width:1290px;height:1.0px;background:#f6f6f6"></div><div class="b" style="left:266px;top:523.5px;width:1290px;height:1.0px;background:#f6f6f6"></div><div class="b" style="left:266px;top:576.5px;width:1290px;height:1.0px;background:#f6f6f6"></div><div class="b" style="left:266px;top:629.5px;width:1290px;height:1.0px;background:#f6f6f6"></div><div class="b" style="left:266px;top:682.0px;width:1290px;height:1.0px;background:#f6f6f6"></div><div class="b" style="left:266px;top:733.5px;width:1290px;height:1.0px;background:#f6f6f6"></div><div class="b" style="left:266px;top:346px;width:1px;height:426px;background:#ececec"></div><div class="b" style="left:1555.3px;top:346px;width:1.0px;height:426px;background:#ececec"></div><div class="b" style="left:275px;top:371.5px;width:22.600000000000023px;height:22.5px;border:1px dotted rgba(0,0,0,.13);box-sizing:border-box"></div><span class="t" style="left:315.00px;top:354.00px;font-size:14.03px;color:#333;letter-spacing:-0.454px;font-weight:700;">Purchase</span><span class="t" style="left:315.00px;top:375.30px;font-size:14.03px;color:#333;letter-spacing:-0.209px;font-weight:700;">Date</span><span class="t" style="left:1224.00px;top:354.00px;font-size:14.03px;color:#333;letter-spacing:-0.140px;font-weight:700;">Payment</span><span class="t" style="left:1224.00px;top:375.30px;font-size:14.03px;color:#333;letter-spacing:-0.352px;font-weight:700;">Status</span><span class="t" style="left:1362.00px;top:354.00px;font-size:14.03px;color:#333;letter-spacing:-0.289px;font-weight:700;">Created</span><span class="t" style="left:1362.00px;top:375.30px;font-size:14.03px;color:#333;letter-spacing:-0.259px;font-weight:700;">by</span><span class="t" style="left:1470.00px;top:375.30px;font-size:14.03px;color:#333;letter-spacing:-0.421px;font-weight:700;">Action</span><svg class="i" style="left:1331px;top:377px;opacity:.14" width="15" height="15" viewBox="0 0 15 15"><path fill="#000" d="M2.6 0h2.2v10.5h2.4L3.7 15 0.2 10.5h2.4zM10.2 15h2.2V4.5h2.4L11.3 0 7.8 4.5h2.4z"/></svg><svg class="i" style="left:1438.5px;top:377px;opacity:.14" width="15" height="15" viewBox="0 0 15 15"><path fill="#000" d="M2.6 0h2.2v10.5h2.4L3.7 15 0.2 10.5h2.4zM10.2 15h2.2V4.5h2.4L11.3 0 7.8 4.5h2.4z"/></svg><div class="b" style="left:275px;top:415.0px;width:22.600000000000023px;height:22.600000000000023px;background:#fff;border:1px solid #cfd3da;box-sizing:border-box"></div><span class="t" style="left:315.00px;top:415.20px;font-size:14.03px;color:#333;letter-spacing:-0.465px;">19-04-2021</span><span class="t" style="left:445.00px;top:415.20px;font-size:14.03px;color:#333;letter-spacing:-0.276px;">PU/2021/02/0006</span><span class="t" style="left:578.00px;top:415.20px;font-size:14.03px;color:#333;letter-spacing:-0.476px;">Received</span><span class="t" style="left:846.00px;top:415.20px;font-size:14.03px;color:#333;letter-spacing:-0.327px;">Cosmex Suppliers</span><span class="t" style="left:846.00px;top:436.30px;font-size:14.03px;color:#333;letter-spacing:0.046px;">Ltd</span><span class="t" style="left:990.00px;top:415.20px;font-size:14.03px;color:#333;letter-spacing:-0.491px;">71,100.000</span><span class="t" style="left:1097.00px;top:415.20px;font-size:14.03px;color:#333;letter-spacing:-0.491px;">71,100.000</span><span class="t" style="left:1362.00px;top:415.20px;font-size:14.03px;color:#333;letter-spacing:-0.341px;">Chris</span><div class="b" style="left:1224.2px;top:417.0px;width:34.59999999999991px;height:19.900000000000034px;background:#2c9c66;border-radius:3px"></div><span class="t" style="left:1231.00px;top:417.00px;font-size:10.29px;color:#fff;letter-spacing:-0.247px;font-weight:700;">Paid</span><div class="b" style="left:445px;top:437.7px;width:95px;height:19.80000000000001px;background:#dd4b39;border-radius:3px"></div><svg class="i" style="left:453.30px;top:442.66px;" width="9.43" height="9.43" viewBox="0.0 -1408.0 1536.0 1536.0"><path fill="#fff" transform="scale(1,-1)" d="M1536 640C1536 1063 1191 1408 768 1408C571 1408 380 1329 239 1196L109 1325C91 1344 63 1349 40 1339C16 1329 0 1306 0 1280V832C0 797 29 768 64 768H512C538 768 561 784 571 808C581 831 576 859 557 877L420 1015C513 1102 637 1152 768 1152C1050 1152 1280 922 1280 640C1280 358 1050 128 768 128C609 128 462 200 364 327C359 334 350 338 341 339C332 339 323 336 316 330L179 192C168 181 167 162 177 149C323 -27 539 -128 768 -128C1191 -128 1536 217 1536 640Z"/></svg><span class="t" style="left:466.00px;top:437.80px;font-size:10.29px;color:#fff;letter-spacing:-0.283px;font-weight:700;">Return Raised</span><div class="b" style="left:1470px;top:414.0px;width:76.70000000000005px;height:36.0px;background:#3c8dbc;border:1px solid #367fa9;box-sizing:border-box;border-radius:3px"></div><span class="t" style="left:1483.00px;top:422.00px;font-size:14.03px;color:#fff;letter-spacing:-0.025px;">Action</span><div class="b" style="left:1524.5px;top:431.8px;border-left:4px solid transparent;border-right:4px solid transparent;border-top:4px solid #fff;width:0;height:0"></div><div class="b" style="left:275px;top:473.7px;width:22.600000000000023px;height:22.600000000000023px;background:#fff;border:1px solid #cfd3da;box-sizing:border-box"></div><span class="t" style="left:315.00px;top:473.90px;font-size:14.03px;color:#333;letter-spacing:-0.465px;">19-04-2021</span><span class="t" style="left:445.00px;top:473.90px;font-size:14.03px;color:#333;letter-spacing:-0.276px;">PU/2021/02/0005</span><span class="t" style="left:578.00px;top:473.90px;font-size:14.03px;color:#333;letter-spacing:-0.476px;">Received</span><span class="t" style="left:846.00px;top:473.90px;font-size:14.03px;color:#333;letter-spacing:-0.327px;">Cosmex Suppliers</span><span class="t" style="left:846.00px;top:495.00px;font-size:14.03px;color:#333;letter-spacing:0.046px;">Ltd</span><span class="t" style="left:990.00px;top:473.90px;font-size:14.03px;color:#333;letter-spacing:-0.483px;">1,071,100.000</span><span class="t" style="left:1097.00px;top:473.90px;font-size:14.03px;color:#333;letter-spacing:-0.491px;">0.000</span><span class="t" style="left:1362.00px;top:473.90px;font-size:14.03px;color:#333;letter-spacing:-0.341px;">Chris</span><div class="b" style="left:1224.2px;top:475.7px;width:48.09999999999991px;height:19.900000000000034px;background:#dd4b39;border-radius:3px"></div><span class="t" style="left:1231.00px;top:475.70px;font-size:10.29px;color:#fff;letter-spacing:-0.147px;font-weight:700;">Unpaid</span><div class="b" style="left:1470px;top:472.7px;width:76.70000000000005px;height:36.0px;background:#3c8dbc;border:1px solid #367fa9;box-sizing:border-box;border-radius:3px"></div><span class="t" style="left:1483.00px;top:480.70px;font-size:14.03px;color:#fff;letter-spacing:-0.025px;">Action</span><div class="b" style="left:1524.5px;top:490.5px;border-left:4px solid transparent;border-right:4px solid transparent;border-top:4px solid #fff;width:0;height:0"></div><div class="b" style="left:275px;top:533.4000000000001px;width:22.600000000000023px;height:22.59999999999991px;background:#fff;border:1px solid #cfd3da;box-sizing:border-box"></div><span class="t" style="left:315.00px;top:533.60px;font-size:14.03px;color:#333;letter-spacing:-0.465px;">19-04-2021</span><span class="t" style="left:445.00px;top:533.60px;font-size:14.03px;color:#333;letter-spacing:-0.276px;">PU/2021/02/0004</span><span class="t" style="left:578.00px;top:533.60px;font-size:14.03px;color:#333;letter-spacing:-0.476px;">Received</span><span class="t" style="left:846.00px;top:533.60px;font-size:14.03px;color:#333;letter-spacing:-0.162px;">Jamshed Ji</span><span class="t" style="left:990.00px;top:533.60px;font-size:14.03px;color:#333;letter-spacing:-0.497px;">845,100.000</span><span class="t" style="left:1097.00px;top:533.60px;font-size:14.03px;color:#333;letter-spacing:-0.497px;">845,100.000</span><span class="t" style="left:1362.00px;top:533.60px;font-size:14.03px;color:#333;letter-spacing:-0.341px;">Chris</span><div class="b" style="left:1224.2px;top:535.4000000000001px;width:34.59999999999991px;height:19.899999999999977px;background:#2c9c66;border-radius:3px"></div><span class="t" style="left:1231.00px;top:535.40px;font-size:10.29px;color:#fff;letter-spacing:-0.247px;font-weight:700;">Paid</span><div class="b" style="left:1470px;top:532.4000000000001px;width:76.70000000000005px;height:36.0px;background:#3c8dbc;border:1px solid #367fa9;box-sizing:border-box;border-radius:3px"></div><span class="t" style="left:1483.00px;top:540.40px;font-size:14.03px;color:#fff;letter-spacing:-0.025px;">Action</span><div class="b" style="left:1524.5px;top:550.2px;border-left:4px solid transparent;border-right:4px solid transparent;border-top:4px solid #fff;width:0;height:0"></div><div class="b" style="left:275px;top:586.0px;width:22.600000000000023px;height:22.59999999999991px;background:#fff;border:1px solid #cfd3da;box-sizing:border-box"></div><span class="t" style="left:315.00px;top:586.20px;font-size:14.03px;color:#333;letter-spacing:-0.465px;">19-04-2021</span><span class="t" style="left:445.00px;top:586.20px;font-size:14.03px;color:#333;letter-spacing:-0.276px;">PU/2021/02/0003</span><span class="t" style="left:578.00px;top:586.20px;font-size:14.03px;color:#333;letter-spacing:-0.476px;">Received</span><span class="t" style="left:846.00px;top:586.20px;font-size:14.03px;color:#333;letter-spacing:-0.162px;">Jamshed Ji</span><span class="t" style="left:990.00px;top:586.20px;font-size:14.03px;color:#333;letter-spacing:-0.497px;">845,100.000</span><span class="t" style="left:1097.00px;top:586.20px;font-size:14.03px;color:#333;letter-spacing:-0.497px;">845,100.000</span><span class="t" style="left:1362.00px;top:586.20px;font-size:14.03px;color:#333;letter-spacing:-0.341px;">Chris</span><div class="b" style="left:1224.2px;top:588.0px;width:34.59999999999991px;height:19.899999999999977px;background:#2c9c66;border-radius:3px"></div><span class="t" style="left:1231.00px;top:588.00px;font-size:10.29px;color:#fff;letter-spacing:-0.247px;font-weight:700;">Paid</span><div class="b" style="left:1470px;top:585.0px;width:76.70000000000005px;height:36.0px;background:#3c8dbc;border:1px solid #367fa9;box-sizing:border-box;border-radius:3px"></div><span class="t" style="left:1483.00px;top:593.00px;font-size:14.03px;color:#fff;letter-spacing:-0.025px;">Action</span><div class="b" style="left:1524.5px;top:602.8px;border-left:4px solid transparent;border-right:4px solid transparent;border-top:4px solid #fff;width:0;height:0"></div><div class="b" style="left:275px;top:638.2px;width:22.600000000000023px;height:22.59999999999991px;background:#fff;border:1px solid #cfd3da;box-sizing:border-box"></div><span class="t" style="left:315.00px;top:638.40px;font-size:14.03px;color:#333;letter-spacing:-0.465px;">19-04-2021</span><span class="t" style="left:445.00px;top:638.40px;font-size:14.03px;color:#333;letter-spacing:-0.276px;">PU/2021/02/0002</span><span class="t" style="left:578.00px;top:638.40px;font-size:14.03px;color:#333;letter-spacing:-0.476px;">Received</span><span class="t" style="left:846.00px;top:638.40px;font-size:14.03px;color:#333;letter-spacing:-0.010px;">John Smith</span><span class="t" style="left:990.00px;top:638.40px;font-size:14.03px;color:#333;letter-spacing:-0.483px;">5,072,000.000</span><span class="t" style="left:1097.00px;top:638.40px;font-size:14.03px;color:#333;letter-spacing:-0.483px;">5,072,000.000</span><span class="t" style="left:1362.00px;top:638.40px;font-size:14.03px;color:#333;letter-spacing:-0.341px;">Chris</span><div class="b" style="left:1224.2px;top:640.2px;width:34.59999999999991px;height:19.899999999999977px;background:#2c9c66;border-radius:3px"></div><span class="t" style="left:1231.00px;top:640.20px;font-size:10.29px;color:#fff;letter-spacing:-0.247px;font-weight:700;">Paid</span><div class="b" style="left:1470px;top:637.2px;width:76.70000000000005px;height:36.0px;background:#3c8dbc;border:1px solid #367fa9;box-sizing:border-box;border-radius:3px"></div><span class="t" style="left:1483.00px;top:645.20px;font-size:14.03px;color:#fff;letter-spacing:-0.025px;">Action</span><div class="b" style="left:1524.5px;top:655.0px;border-left:4px solid transparent;border-right:4px solid transparent;border-top:4px solid #fff;width:0;height:0"></div><div class="b" style="left:275px;top:690.8000000000001px;width:22.600000000000023px;height:22.59999999999991px;background:#fff;border:1px solid #cfd3da;box-sizing:border-box"></div><span class="t" style="left:315.00px;top:691.00px;font-size:14.03px;color:#333;letter-spacing:-0.465px;">19-04-2021</span><span class="t" style="left:445.00px;top:691.00px;font-size:14.03px;color:#333;letter-spacing:-0.276px;">PU/2021/02/0001</span><span class="t" style="left:578.00px;top:691.00px;font-size:14.03px;color:#333;letter-spacing:-0.476px;">Received</span><span class="t" style="left:846.00px;top:691.00px;font-size:14.03px;color:#333;letter-spacing:-0.010px;">John Smith</span><span class="t" style="left:990.00px;top:691.00px;font-size:14.03px;color:#333;letter-spacing:-0.402px;">5,112,000.000</span><span class="t" style="left:1097.00px;top:691.00px;font-size:14.03px;color:#333;letter-spacing:-0.402px;">5,112,000.000</span><span class="t" style="left:1362.00px;top:691.00px;font-size:14.03px;color:#333;letter-spacing:-0.341px;">Chris</span><div class="b" style="left:1224.2px;top:692.8000000000001px;width:34.59999999999991px;height:19.899999999999977px;background:#2c9c66;border-radius:3px"></div><span class="t" style="left:1231.00px;top:692.80px;font-size:10.29px;color:#fff;letter-spacing:-0.247px;font-weight:700;">Paid</span><div class="b" style="left:1470px;top:689.8000000000001px;width:76.70000000000005px;height:36.0px;background:#3c8dbc;border:1px solid #367fa9;box-sizing:border-box;border-radius:3px"></div><span class="t" style="left:1483.00px;top:697.80px;font-size:14.03px;color:#fff;letter-spacing:-0.025px;">Action</span><div class="b" style="left:1524.5px;top:707.6px;border-left:4px solid transparent;border-right:4px solid transparent;border-top:4px solid #fff;width:0;height:0"></div><span class="t" style="left:940.15px;top:743.20px;font-size:14.03px;color:#333;letter-spacing:-0.118px;font-weight:700;">Total</span><span class="t" style="left:990.00px;top:743.20px;font-size:14.03px;color:#333;letter-spacing:-0.048px;font-weight:700;">13016400.000</span><span class="t" style="left:1097.00px;top:743.20px;font-size:14.03px;color:#333;letter-spacing:0.015px;font-weight:700;">11945300.000</span></div>
<div id="ov"></div>
<div id="top"><div class="b" style="left:0px;top:0px;width:1421px;height:3px;background:#fff"></div><div class="b" style="left:0px;top:0px;width:240px;height:1px;background:#1c1f21"></div><div class="b" style="left:240px;top:0px;width:15px;height:1px;background:#f0f0f0"></div><div class="b" style="left:255px;top:0px;width:94px;height:1px;background:#6fa2dc"></div><div class="b" style="left:927px;top:0px;width:46px;height:1px;background:#8a8a8a"></div><div class="b" style="left:973px;top:0px;width:47px;height:1px;background:#7aa4dd"></div><div class="b" style="left:0px;top:3px;width:1421px;height:1px;background:rgba(0,0,0,.5)"></div><div class="b" style="left:1421px;top:0px;width:179px;height:1px;background:rgba(255,255,255,.1)"></div><svg class="i" style="left:783px;top:13px" width="20" height="20" viewBox="-10 -10 20 20"><path d="M6.9 -1.6A7.1 7.1 0 0 1 -6.5 2.9" fill="none" stroke="#fff" stroke-width="1.5" stroke-linecap="round"/></svg></div>
<div id="modal"><div class="b" style="left:321px;top:31.6px;width:940px;height:388.4px;background:rgba(0,0,0,.25);border-radius:1px;box-shadow:0 2px 4px rgba(0,0,0,.3)"></div><div class="b" style="left:322px;top:32.6px;width:938px;height:386.4px;background:#fff"></div><div class="b" style="left:322px;top:32.6px;width:938px;height:57.4px;background:linear-gradient(45deg,#1fb2ad 8%,#0275d8 90%)"></div><span class="t" style="left:747.65px;top:52.40px;font-size:17.2px;color:#fff;letter-spacing:-0.015px;">Payments</span><svg class="i" style="left:1233.5px;top:53px;opacity:.3" width="9" height="9" viewBox="0 0 9 9"><path d="M1 1.5L8 8.5M8 1.5L1 8.5" stroke="#002" stroke-width="1" fill="none"/></svg><span class="t" style="left:338.00px;top:107.60px;font-size:14.03px;color:#2b2b2b;letter-spacing:-0.145px;">Supplier Details</span><span class="t" style="left:338.00px;top:128.45px;font-size:14.03px;color:#2b2b2b;letter-spacing:-0.503px;font-weight:700;">Cosmex Suppliers Ltd</span><span class="t" style="left:338.00px;top:149.30px;font-size:14.03px;color:#2b2b2b;letter-spacing:-0.401px;">Mobile: 987457875487</span><span class="t" style="left:338.00px;top:170.15px;font-size:14.03px;color:#2b2b2b;letter-spacing:-0.251px;">Email: cosmex@mail.com</span><span class="t" style="left:650.50px;top:107.60px;font-size:14.03px;color:#2b2b2b;letter-spacing:-0.323px;">Purchase Details:</span><span class="t" style="left:650.50px;top:128.45px;font-size:14.03px;color:#2b2b2b;letter-spacing:-0.091px;font-weight:700;">Invoice #PU/2021/02/0006</span><span class="t" style="left:650.50px;top:149.30px;font-size:14.03px;color:#2b2b2b;letter-spacing:-0.159px;font-weight:700;">Date :19-04-2021</span><span class="t" style="left:650.50px;top:170.15px;font-size:14.03px;color:#2b2b2b;letter-spacing:-0.203px;font-weight:700;">Grand Total :71100.0000</span><span class="t" style="left:963.00px;top:107.60px;font-size:14.03px;color:#2b2b2b;letter-spacing:-0.181px;font-weight:700;">Paid Payment :71100.00</span><span class="t" style="left:963.00px;top:128.45px;font-size:14.03px;color:#2b2b2b;letter-spacing:-0.295px;font-weight:700;">Due Amount :0.00</span><div class="b" style="left:338.5px;top:211.7px;width:905.0px;height:37.5px;background:#337ab7"></div><div class="b" style="left:372.5px;top:211.7px;width:1.0px;height:37.5px;background:#dbe7f2"></div><div class="b" style="left:372.5px;top:249px;width:1.0px;height:53.5px;background:#f4f4f4"></div><div class="b" style="left:522.0px;top:211.7px;width:1.0px;height:37.5px;background:#dbe7f2"></div><div class="b" style="left:522.0px;top:249px;width:1.0px;height:53.5px;background:#f4f4f4"></div><div class="b" style="left:642.5px;top:211.7px;width:1.0px;height:37.5px;background:#dbe7f2"></div><div class="b" style="left:642.5px;top:249px;width:1.0px;height:53.5px;background:#f4f4f4"></div><div class="b" style="left:794.5px;top:211.7px;width:1.0px;height:37.5px;background:#dbe7f2"></div><div class="b" style="left:794.5px;top:249px;width:1.0px;height:53.5px;background:#f4f4f4"></div><div class="b" style="left:890.5px;top:211.7px;width:1.0px;height:37.5px;background:#dbe7f2"></div><div class="b" style="left:890.5px;top:249px;width:1.0px;height:53.5px;background:#f4f4f4"></div><div class="b" style="left:1041.5px;top:211.7px;width:1.0px;height:37.5px;background:#dbe7f2"></div><div class="b" style="left:1041.5px;top:249px;width:1.0px;height:53.5px;background:#f4f4f4"></div><div class="b" style="left:1161.5px;top:211.7px;width:1.0px;height:37.5px;background:#dbe7f2"></div><div class="b" style="left:1161.5px;top:249px;width:1.0px;height:53.5px;background:#f4f4f4"></div><div class="b" style="left:338.5px;top:249px;width:1.0px;height:54px;background:#f4f4f4"></div><div class="b" style="left:1242.5px;top:249px;width:1.0px;height:54px;background:#f4f4f4"></div><div class="b" style="left:338.5px;top:302px;width:905.0px;height:1px;background:#f4f4f4"></div><span class="t" style="left:347.90px;top:221.10px;font-size:14.03px;color:#fff;letter-spacing:-0.097px;font-weight:700;">#</span><span class="t" style="left:382.40px;top:221.10px;font-size:14.03px;color:#fff;letter-spacing:-0.231px;font-weight:700;">Payment Date</span><span class="t" style="left:531.90px;top:221.10px;font-size:14.03px;color:#fff;letter-spacing:-0.140px;font-weight:700;">Payment</span><span class="t" style="left:652.40px;top:221.10px;font-size:14.03px;color:#fff;letter-spacing:-0.197px;font-weight:700;">Payment Type</span><span class="t" style="left:804.40px;top:221.10px;font-size:14.03px;color:#fff;letter-spacing:-0.654px;font-weight:700;">Account</span><span class="t" style="left:900.40px;top:221.10px;font-size:14.03px;color:#fff;letter-spacing:-0.235px;font-weight:700;">Payment Note</span><span class="t" style="left:1051.40px;top:221.10px;font-size:14.03px;color:#fff;letter-spacing:-0.352px;font-weight:700;">Created by</span><span class="t" style="left:1171.40px;top:221.10px;font-size:14.03px;color:#fff;letter-spacing:-0.421px;font-weight:700;">Action</span><span class="t" style="left:347.90px;top:260.20px;font-size:14.03px;color:#2b2b2b;letter-spacing:-0.537px;">1</span><span class="t" style="left:382.40px;top:260.20px;font-size:14.03px;color:#2b2b2b;letter-spacing:-0.465px;">19-04-2021</span><span class="t" style="left:531.90px;top:260.20px;font-size:14.03px;color:#2b2b2b;letter-spacing:-0.416px;">71100.0000</span><span class="t" style="left:652.40px;top:260.20px;font-size:14.03px;color:#2b2b2b;letter-spacing:-0.753px;">Cash</span><span class="t" style="left:1051.40px;top:260.20px;font-size:14.03px;color:#2b2b2b;letter-spacing:-0.341px;">Chris</span><div class="b" style="left:1171px;top:259px;width:38px;height:35px;background:#dd4b39;border:1px solid #d73925;box-sizing:border-box;border-radius:3px"></div><svg class="i" style="left:1184.40px;top:269.53px;" width="11.47" height="12.51" viewBox="0.0 -1408.0 1408.0 1536.0"><path fill="#fff" transform="scale(1,-1)" d="M512 160C512 142 498 128 480 128H416C398 128 384 142 384 160V864C384 882 398 896 416 896H480C498 896 512 882 512 864V160ZM768 160C768 142 754 128 736 128H672C654 128 640 142 640 160V864C640 882 654 896 672 896H736C754 896 768 882 768 864V160ZM1024 160C1024 142 1010 128 992 128H928C910 128 896 142 896 160V864C896 882 910 896 928 896H992C1010 896 1024 882 1024 864V160ZM480 1152 529 1269C532 1273 540 1279 546 1280H863C868 1279 877 1273 880 1269L928 1152ZM1408 1120C1408 1138 1394 1152 1376 1152H1067L997 1319C977 1368 917 1408 864 1408H544C491 1408 431 1368 411 1319L341 1152H32C14 1152 0 1138 0 1120V1056C0 1038 14 1024 32 1024H128V72C128 -38 200 -128 288 -128H1120C1208 -128 1280 -34 1280 76V1024H1376C1394 1024 1408 1038 1408 1056Z"/></svg><div class="b" style="left:322px;top:340px;width:938px;height:1px;background:#f0f0f0"></div><div class="b" style="left:1167px;top:357px;width:77px;height:47px;background:#f4f4f4;border:1px solid #d9dee4;box-sizing:border-box;border-radius:3px"></div><span class="t" style="left:1184.25px;top:370.00px;font-size:17.8px;color:#333;letter-spacing:-0.594px;">Close</span></div>
</body></html>
